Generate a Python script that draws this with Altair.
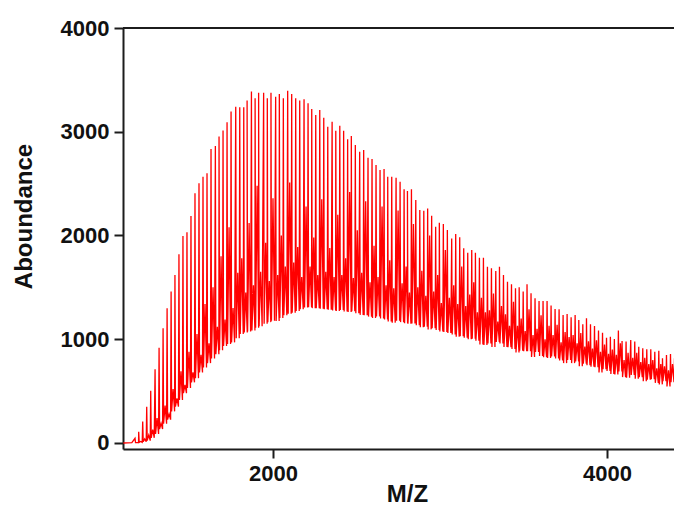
import altair as alt
import pandas as pd

lead_mz = [1104, 1130, 1155]
lead_ab = [0, 2, 3]

peak_mz = [1174,1196,1220,1244,1268,1294,1318,1342,1366,1390,1413,1437,1461,1485,1509,1533,1557,1581,1605,1629,1655,1677,1701,1725,1749,1777,1801,1825,1845,1871,1893,1914,1944,1966,1988,2016,2038,2062,2088,2112,2136,2160,2186,2210,
 2232,2256,2280,2304,2328,2354,2376,2400,2423,2447,2469,2493,2519,2543,2569,2593,2617,2641,2665,2687,2711,2737,2761,2785,2805,2829,2855,2879,2903,2926,2950,2974,2996,3020,3044,3070,3094,3118,3142,3166,3190,3212,3236,3260,3284,3308,3334,3356,
 3380,3404,3428,3452,3474,3498,3521,3545,3569,3593,3617,3641,3665,3689,3713,3737,3761,3785,3809,3831,3855,3877,3901,3925,3949,3973,3997,4020,4044,4068,4090,4114,4142,4166,4190,4214,4238,4262,4286,4310,4332,4356,4380,4404,4428,4450]

peak_top = [45,109,206,350,504,710,919,1105,1298,1459,1619,1819,1995,2031,2188,2407,2503,2567,2599,2834,2863,2953,3011,3091,3194,3242,3236,3236,3300,3387,3322,3377,3377,3322,3377,3338,3364,3322,3396,3364,3322,3300,3313,3274,
 3219,3161,3209,3135,3049,3097,3010,3058,3010,2927,2959,2872,2808,2824,2750,2737,2679,2631,2641,2567,2567,2557,2518,2445,2428,2445,2342,2245,2239,2261,2191,2085,2123,2110,2053,1972,2014,1982,1876,1834,1860,1834,1786,1786,1699,1683,1657,1699,
 1619,1555,1529,1491,1500,1459,1529,1443,1394,1369,1369,1369,1324,1292,1288,1234,1243,1211,1234,1186,1144,1202,1144,1128,1083,1063,1015,1025,1002,1083,983,977,993,977,928,912,903,903,880,890,816,848,858,816,774,768]

valley = [4,6,12,22,50,87,135,185,225,305,350,415,480,530,585,625,680,728,770,815,855,895,935,955,970,1010,1050,1065,1075,1085,1110,1125,1150,1165,1178,1175,1205,1232,1245,1255,1272,1290,1305,1308,
 1300,1298,1295,1290,1285,1278,1272,1282,1268,1262,1270,1250,1235,1232,1218,1205,1220,1200,1190,1172,1160,1178,1165,1155,1150,1152,1135,1115,1120,1095,1105,1088,1075,1070,1060,1045,1025,1030,1015,1000,1005,985,950,945,960,925,975,960,
 925,922,905,872,890,885,885,830,878,838,826,820,835,815,795,770,800,770,785,740,765,750,735,730,680,710,695,665,660,690,635,630,655,620,635,595,610,615,580,565,595,545,585,515,535,520]

second = [3,15,40,75,130,240,190,360,280,520,430,690,560,880,680,1050,850,1340,960,1500,1120,1800,1190,2080,1300,1640,1780,1450,2120,1520,2480,1650,1930,1560,2360,1620,2000,1700,2510,1740,1890,1600,2280,1700,
 1980,1620,2350,1650,1880,1600,2200,1620,1780,2420,1590,2050,1640,2330,1550,1900,1600,2280,1520,1760,1490,2240,1540,1700,1450,2110,1500,1660,1420,2000,1460,1620,1350,1860,1400,1520,1340,1700,1320,1430,1550,1260,1400,1260,1280,1440,1170,1320,
 1240,1130,1360,1130,1200,1080,1290,1040,1100,1230,1000,1130,1040,1140,970,1070,1020,1040,960,1060,930,980,910,990,880,950,860,900,850,960,800,870,820,870,780,820,760,800,720,760,740,700,760,650,700,640]

assert len(peak_mz) == len(peak_top) == len(valley) == len(second), (len(peak_mz), len(peak_top), len(valley), len(second))

xs, ys = list(lead_mz), list(lead_ab)
for i in range(len(peak_mz)):
    xs += [peak_mz[i], peak_mz[i] + 3, peak_mz[i] + 12, peak_mz[i] + 21]
    ys += [peak_top[i], valley[i], second[i], valley[i]]
df = pd.DataFrame({"mz": xs, "ab": ys, "seq": range(len(xs))})

INK = "#1c1c1c"
FONT = "Liberation Sans"
x = alt.X("mz:Q", scale=alt.Scale(domain=[1102, 4401], nice=False, zero=False),
          axis=alt.Axis(values=[2000, 4000], format="d", title="M/Z", grid=False,
                        titleX=284, titleY=45, titleBaseline="middle"))
y = alt.Y("ab:Q", scale=alt.Scale(domain=[-58, 4000], nice=False, zero=False),
          axis=alt.Axis(values=[0, 1000, 2000, 3000, 4000], format="d", title="Aboundance", grid=False,
                        titleX=-99, titleY=188, titleBaseline="middle"))

line = alt.Chart(df).mark_line(color="#ff0000", strokeWidth=1.3, clip=True, interpolate="linear").encode(
    x=x, y=y, order="seq:Q")
top = alt.Chart(pd.DataFrame({"v": [4000]})).mark_rule(color=INK, strokeWidth=2).encode(y=alt.Y("v:Q"))

chart = alt.layer(line, top).properties(
    width=551, height=421,
    padding={"left": 115, "top": 20, "right": 0, "bottom": 59},
    autosize=alt.AutoSizeParams(type="none"),
    background="white",
).configure_view(stroke=None).configure_axis(
    domainColor=INK, domainWidth=2, tickColor=INK, tickWidth=2, tickSize=9,
    labelFont=FONT, titleFont=FONT, labelFontWeight="bold", titleFontWeight="bold",
    labelFontSize=22, titleFontSize=24, labelColor="#111111", titleColor="#111111",
    labelPadding=5,
)
chart.save("out.html", embed_options={"renderer": "svg", "actions": False})
